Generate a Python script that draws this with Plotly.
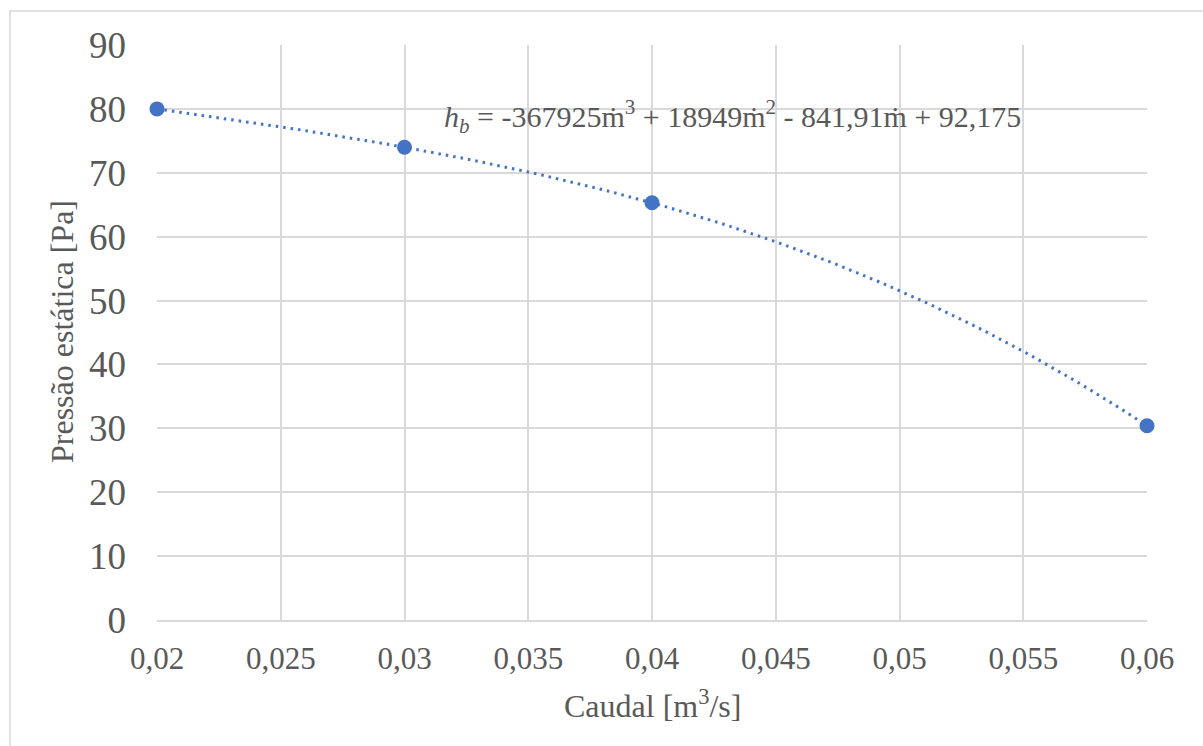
import numpy as np
import plotly.graph_objects as go

# Data
caudal = [0.02, 0.03, 0.04, 0.06]
pressao = [80.0, 74.0, 65.3, 30.4]
x_ticks = [0.02, 0.025, 0.03, 0.035, 0.04, 0.045, 0.05, 0.055, 0.06]
x_tick_labels = ["0,02", "0,025", "0,03", "0,035", "0,04", "0,045", "0,05", "0,055", "0,06"]
y_ticks = [0, 10, 20, 30, 40, 50, 60, 70, 80, 90]
equation = ("<i>h<sub>b</sub></i> = -367925ṁ<sup>3</sup> + 18949ṁ<sup>2</sup>"
            " - 841,91ṁ + 92,175")
x_title = "Caudal [m<sup>3</sup>/s]"
y_title = "Pressão estática [Pa]"

# Polynomial (order 3) trendline fitted to the data, as in the original chart
coef = np.polyfit(caudal, pressao, 3)
xt = np.linspace(min(caudal), max(caudal), 200)
yt = np.polyval(coef, xt)

FONT = "Liberation Serif"
GRAY = "#595959"
GRID = "#d9d9d9"
BLUE = "#4472C4"

L, R, T, B = 157, 1147, 45, 620
W, H = 1203, 746
PW, PH = R - L, B - T

def px_x(x):
    return (x - L) / PW

def px_y(y):
    return (B - y) / PH

fig = go.Figure()
fig.add_trace(go.Scatter(x=xt, y=yt, mode="lines",
                         line=dict(color=BLUE, width=3, dash="2.5px,5px"),
                         hoverinfo="skip", showlegend=False, cliponaxis=False))
fig.add_trace(go.Scatter(x=caudal, y=pressao, mode="markers",
                         marker=dict(color=BLUE, size=15),
                         showlegend=False, cliponaxis=False))

fig.update_layout(
    width=W, height=H,
    margin=dict(l=L, r=W - R, t=T, b=H - B, autoexpand=False),
    paper_bgcolor="white", plot_bgcolor="white",
    font=dict(family=FONT, color=GRAY),
    xaxis=dict(range=[0.02, 0.06], tickvals=x_ticks, ticktext=x_tick_labels,
               showgrid=True, gridcolor=GRID, gridwidth=1.5,
               showline=True, linecolor=GRID, linewidth=1.5,
               zeroline=False, ticks="", ticklabelstandoff=10,
               tickfont=dict(family=FONT, size=31, color=GRAY)),
    yaxis=dict(range=[0, 90], tickvals=y_ticks,
               showgrid=True, gridcolor=GRID, gridwidth=1.5,
               showline=False, zeroline=False, ticks="", ticklabelstandoff=30,
               tickfont=dict(family=FONT, size=37, color=GRAY)),
    shapes=[dict(type="rect", xref="paper", yref="paper",
                 x0=px_x(10), x1=px_x(1260), y0=px_y(800), y1=px_y(11),
                 line=dict(color=GRID, width=1.5), fillcolor="rgba(0,0,0,0)",
                 layer="below")],
    annotations=[
        dict(text=equation, x=px_x(442), y=px_y(116), xref="paper", yref="paper",
             showarrow=False, xanchor="left", yanchor="middle",
             font=dict(size=30, color=GRAY, family=FONT)),
        dict(text=x_title, x=px_x(652), y=px_y(704), xref="paper", yref="paper",
             showarrow=False, xanchor="center", yanchor="middle",
             font=dict(size=32, color=GRAY, family=FONT)),
        dict(text=y_title, x=px_x(62), y=px_y(332), xref="paper", yref="paper",
             showarrow=False, xanchor="center", yanchor="middle", textangle=-90,
             font=dict(size=32, color=GRAY, family=FONT)),
    ],
)

fig.write_html("out.html")
